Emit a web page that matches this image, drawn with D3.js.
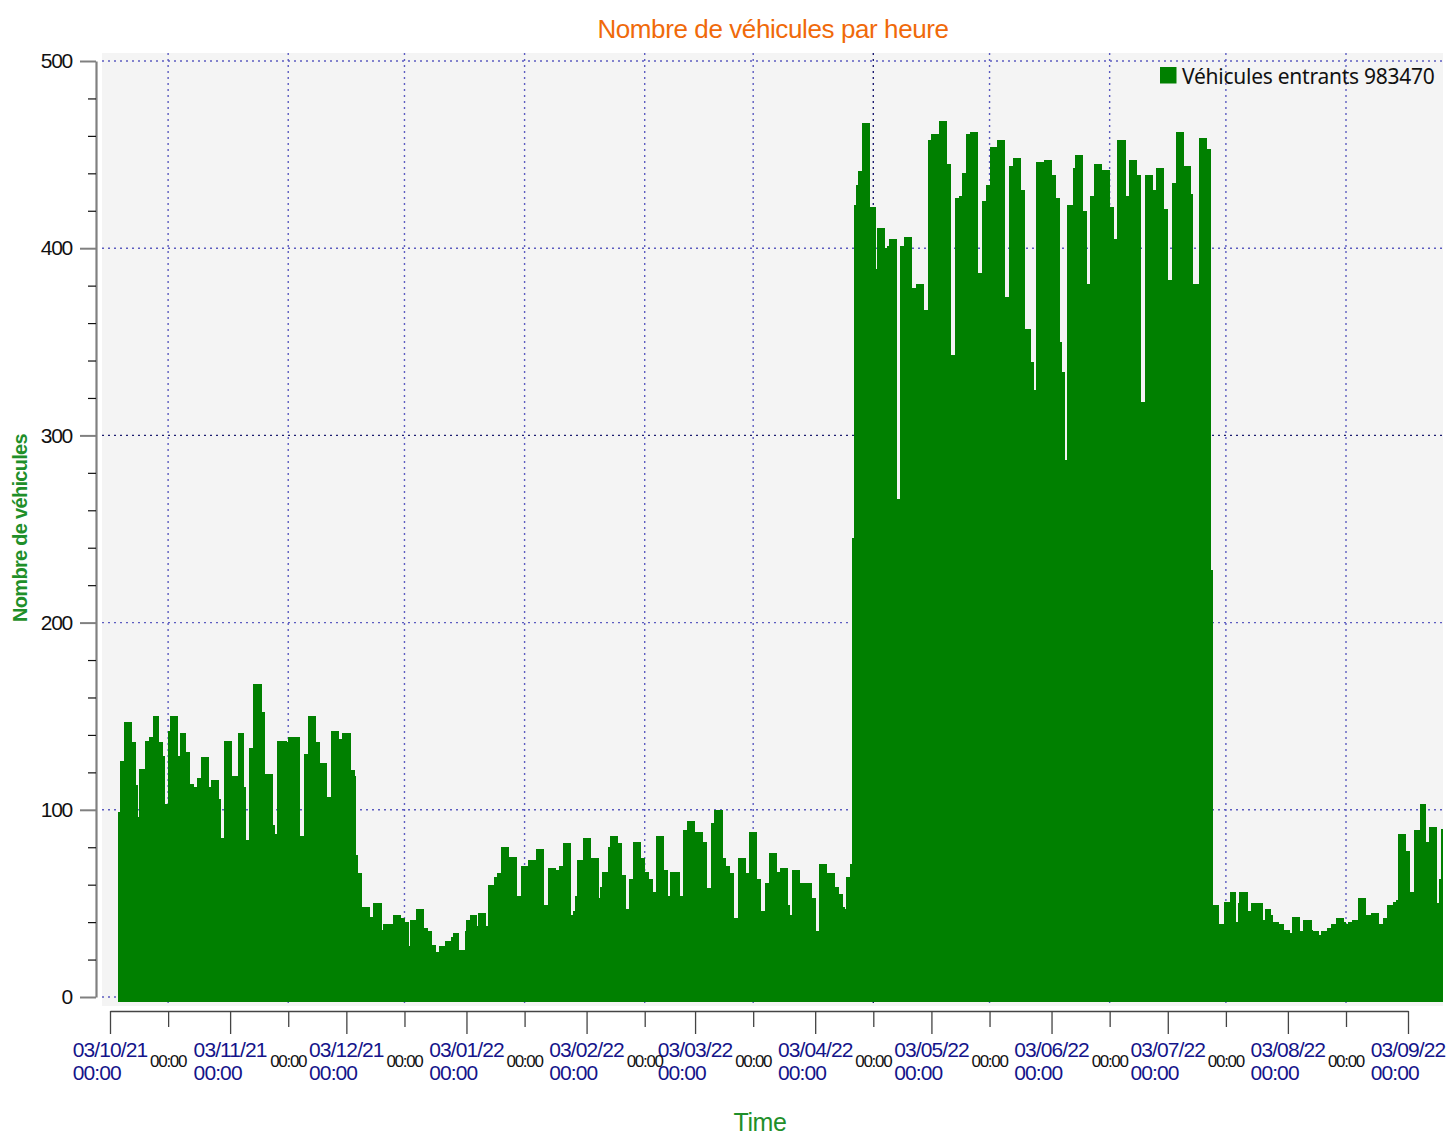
<!DOCTYPE html>
<html><head><meta charset="utf-8">
<script src="https://cdn.jsdelivr.net/npm/d3@7"></script>
<style>
html,body{margin:0;padding:0;background:#fff;}
svg{display:block;}
</style></head>
<body>
<script>
// ---------- DATA ----------
const chartTitle = "Nombre de véhicules par heure";
const yAxisTitle = "Nombre de véhicules";
const xAxisTitle = "Time";
const seriesName = "Véhicules entrants";
const seriesTotal = 983470;
// first bin start (UTC) and bin length in hours
const firstBin = "2021-10-05T00:00:00Z";
const binHours = 12;
// peak hourly vehicle count within each 12 h bin
const peakHourlyCount = [
99,126,126,147,147,147,147,136,136,113,
96,122,122,122,137,137,139,139,150,150,
150,136,136,129,103,103,142,150,150,150,
150,129,141,141,141,131,131,114,114,112,
112,117,117,128,128,128,128,112,116,116,
116,116,106,85,85,137,137,137,137,118,
118,118,141,141,141,112,84,84,133,133,
167,167,167,167,152,152,119,119,119,119,
92,87,137,137,137,137,137,136,139,139,
139,139,139,139,86,86,130,130,150,150,
150,150,136,136,125,125,125,125,107,107,
142,142,142,142,138,138,141,141,141,141,
121,121,118,76,66,66,48,48,48,48,
43,43,50,50,50,50,36,39,39,39,
39,39,44,44,44,44,42,42,40,40,
27,41,41,41,47,47,47,47,37,37,
35,35,28,28,24,24,27,27,27,30,
30,30,32,34,34,34,25,25,25,35,
41,41,44,44,44,38,45,45,45,45,
38,60,60,60,64,64,66,66,80,80,
80,80,75,75,75,75,54,54,70,70,
70,70,73,73,73,73,79,79,79,79,
49,49,69,69,69,69,68,68,70,70,
82,82,82,82,44,46,54,73,73,73,
85,85,85,85,74,74,74,74,53,59,
67,67,67,80,86,86,86,86,82,82,
65,65,47,47,63,63,83,83,83,83,
74,74,67,67,63,63,56,56,86,86,
86,86,68,68,54,67,67,67,67,67,
54,54,89,89,94,94,94,94,88,88,
88,88,83,83,58,58,93,93,100,100,
100,100,74,74,70,70,66,66,42,42,
74,74,74,74,66,66,88,88,88,88,
63,63,46,46,61,61,77,77,77,77,
67,67,69,69,69,69,49,44,68,68,
68,68,61,61,61,61,61,61,53,53,
35,35,71,71,71,71,66,66,66,66,
59,59,55,55,48,47,64,64,71,245,
423,434,441,441,467,467,467,467,422,422,
422,389,411,411,411,411,400,401,405,405,
405,405,266,266,401,401,406,406,406,406,
379,379,381,381,381,381,367,367,458,458,
461,461,461,461,468,468,468,468,445,445,
343,343,427,427,428,428,440,440,461,461,
462,462,462,462,387,387,425,425,434,434,
454,454,454,454,458,458,458,458,374,374,
444,444,448,448,448,448,431,431,357,357,
357,339,339,324,446,446,446,446,447,447,
447,447,439,439,427,427,350,334,334,287,
423,423,423,443,450,450,450,450,420,420,
381,381,428,428,445,445,445,445,442,442,
442,442,422,422,405,405,458,458,458,458,
428,428,447,447,447,447,439,439,318,318,
439,439,439,439,431,431,443,443,443,443,
421,421,383,383,435,435,462,462,462,462,
444,444,444,444,429,381,381,381,459,459,
459,459,453,453,228,49,49,49,39,39,
39,51,51,51,56,56,56,40,50,56,
56,56,56,46,46,50,50,50,50,50,
50,41,47,47,47,44,40,40,40,39,
39,39,36,36,36,34,43,43,43,43,
35,35,41,41,41,41,36,35,35,35,
33,35,35,35,37,37,39,39,39,42,
42,42,42,40,39,40,40,41,41,41,
53,53,53,53,44,44,44,45,45,45,
45,39,39,42,42,49,49,49,51,51,
52,87,87,87,87,78,78,56,56,89,
89,89,103,103,103,83,83,91,91,91,
91,50,63,90
];
const majorTickDates = ["2021-10-03","2021-11-03","2021-12-03","2022-01-03","2022-02-03","2022-03-03","2022-04-03","2022-05-03","2022-06-03","2022-07-03","2022-08-03","2022-09-03"];
const majorTickLabels = ["03/10/21","03/11/21","03/12/21","03/01/22","03/02/22","03/03/22","03/04/22","03/05/22","03/06/22","03/07/22","03/08/22","03/09/22"];
const minorTickDates = ["2021-10-18","2021-11-18","2021-12-18","2022-01-18","2022-02-18","2022-03-18","2022-04-18","2022-05-18","2022-06-18","2022-07-18","2022-08-18"];
const timeLabel = "00:00";
const yMajorTicks = [0,100,200,300,400,500];
const yMinorTicks = [20,40,60,80,120,140,160,180,220,240,260,280,320,340,360,380,420,440,460,480];

// ---------- LAYOUT ----------
const W = 1449, H = 1138;
const plot = {left:102, top:53, right:1443, bottom:1006};
const GREEN = "#008000";
const NAVY = "#14148a";
const FONT = "'Liberation Sans', Arial, sans-serif";

const parse = s => new Date(s.length === 10 ? s + "T00:00:00Z" : s);
const x = d3.scaleUtc()
  .domain([parse(majorTickDates[0]), parse(majorTickDates[majorTickDates.length-1])])
  .range([110, 1408]);
const y = d3.scaleLinear().domain([0, 500]).range([997, 61]);

const svg = d3.select("body").append("svg").attr("width", W).attr("height", H)
  .style("font-family", FONT);

// plot background
svg.append("rect").attr("x", plot.left).attr("y", plot.top)
  .attr("width", plot.right - plot.left).attr("height", plot.bottom - plot.top)
  .attr("fill", "#f4f4f4");

svg.append("clipPath").attr("id","clip").append("rect")
  .attr("x", plot.left).attr("y", plot.top)
  .attr("width", plot.right - plot.left).attr("height", plot.bottom - plot.top);

// grid
const grid = svg.append("g").attr("clip-path","url(#clip)");
grid.selectAll("line.h").data(yMajorTicks).join("line")
  .attr("x1", plot.left).attr("x2", plot.right)
  .attr("y1", d => y(d)).attr("y2", d => y(d))
  .attr("stroke", d => d === 300 ? "#1c1c70" : "#5c5cc0")
  .attr("stroke-width", 1.4).attr("stroke-dasharray", "2,4");
grid.selectAll("line.v").data(minorTickDates).join("line")
  .attr("x1", d => x(parse(d))).attr("x2", d => x(parse(d)))
  .attr("y1", plot.top).attr("y2", plot.bottom)
  .attr("stroke", (d,i) => i === 6 ? "#1c1c70" : "#5c5cc0")
  .attr("stroke-width", 1.4).attr("stroke-dasharray", "2,4");

// bars
const t0 = parse(firstBin).getTime();
const binMs = binHours * 3600 * 1000;
const bars = peakHourlyCount.map((v, i) => ({t: new Date(t0 + i * binMs), t1: new Date(t0 + (i + 1) * binMs), v}));
const base = y(0) + 5;
svg.append("g").attr("clip-path","url(#clip)")
  .selectAll("rect").data(bars).join("rect")
  .attr("x", d => x(d.t))
  .attr("width", d => x(d.t1) - x(d.t) + 0.4)
  .attr("y", d => y(d.v))
  .attr("height", d => base - y(d.v))
  .attr("fill", GREEN)
  .attr("shape-rendering", "crispEdges");

// Y axis
const yAxisMajor = svg.append("g").attr("transform", "translate(96,0)")
  .call(d3.axisLeft(y).tickValues(yMajorTicks).tickSize(16).tickPadding(8).tickSizeOuter(0));
yAxisMajor.select(".domain").attr("stroke", "#808080").attr("stroke-width", 2.2);
yAxisMajor.selectAll(".tick line").attr("stroke", "#808080").attr("stroke-width", 2);
yAxisMajor.selectAll(".tick text").attr("font-size", 21).attr("font-family", FONT)
  .attr("letter-spacing", "-1.3px").attr("fill", "#111");
const yAxisMinor = svg.append("g").attr("transform", "translate(96,0)")
  .call(d3.axisLeft(y).tickValues(yMinorTicks).tickSize(8).tickFormat(""));
yAxisMinor.select(".domain").remove();
yAxisMinor.selectAll(".tick line").attr("stroke", "#111").attr("stroke-width", 1.2);

// X axis
const xAxisG = svg.append("g").attr("transform", "translate(0,1011)");
const xMajor = xAxisG.append("g")
  .call(d3.axisBottom(x).tickValues(majorTickDates.map(parse)).tickSize(23).tickSizeOuter(0).tickFormat(""));
xMajor.select(".domain").attr("stroke", "#444").attr("stroke-width", 1.5);
xMajor.selectAll(".tick line").attr("stroke", "#444").attr("stroke-width", 1.3);
const xMinor = xAxisG.append("g")
  .call(d3.axisBottom(x).tickValues(minorTickDates.map(parse)).tickSize(16).tickFormat(""));
xMinor.select(".domain").remove();
xMinor.selectAll(".tick line").attr("stroke", "#444").attr("stroke-width", 1.3);

// major labels (two lines, first centred, second left-aligned with first)
majorTickDates.forEach((d, i) => {
  const cx = x(parse(d));
  const t1 = svg.append("text").attr("x", cx).attr("y", 1057)
    .attr("text-anchor", "middle").attr("font-size", 21).attr("letter-spacing", "-0.9px")
    .attr("fill", NAVY).text(majorTickLabels[i]);
  const bb = t1.node().getBBox();
  svg.append("text").attr("x", bb.x).attr("y", 1080)
    .attr("text-anchor", "start").attr("font-size", 21).attr("letter-spacing", "-0.9px")
    .attr("fill", NAVY).text(timeLabel);
});
// minor labels
svg.append("g").selectAll("text").data(minorTickDates).join("text")
  .attr("x", d => x(parse(d))).attr("y", 1066.5)
  .attr("text-anchor", "middle").attr("font-size", 17).attr("letter-spacing", "-1.3px")
  .attr("fill", "#111").text(timeLabel);

// titles
svg.append("text").attr("x", 773).attr("y", 37.5).attr("text-anchor", "middle")
  .attr("font-size", 26).attr("letter-spacing", "-0.4px").attr("fill", "#f06a0a")
  .text(chartTitle);
svg.append("text").attr("transform", "translate(27,528) rotate(-90)")
  .attr("text-anchor", "middle").attr("font-size", 20).attr("font-weight", "bold")
  .attr("letter-spacing", "-0.7px").attr("fill", "#1f8f2a").text(yAxisTitle);
svg.append("text").attr("x", 760).attr("y", 1131).attr("text-anchor", "middle")
  .attr("font-size", 25).attr("letter-spacing", "-0.4px").attr("fill", "#1f8f2a").text(xAxisTitle);

// legend
const lg = svg.append("g");
lg.append("rect").attr("x", 1160).attr("y", 67).attr("width", 16.5).attr("height", 16.5).attr("fill", GREEN);
lg.append("text").attr("x", 1182).attr("y", 83.5)
  .attr("font-family", "'Noto Sans', 'DejaVu Sans', sans-serif")
  .attr("font-size", 21).attr("letter-spacing", "-0.25px").attr("fill", "#111")
  .text(seriesName + " " + seriesTotal);
</script>
</body></html>
